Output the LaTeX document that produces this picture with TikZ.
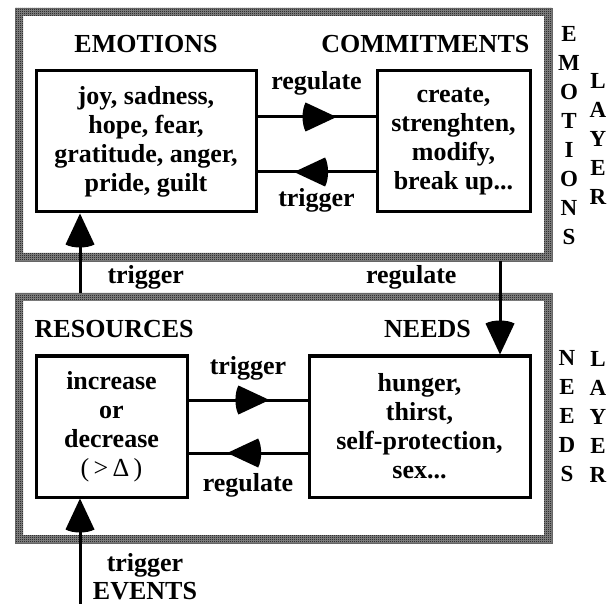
\documentclass[tikz,border=0pt]{standalone}
\usepackage{fontspec}
\setmainfont{Liberation Serif}
\usetikzlibrary{positioning,arrows.meta,decorations.markings,patterns.meta}
\newcommand\labfont{\fontsize{26}{29}\selectfont\bfseries}
\newcommand\sidefont{\fontsize{23}{29}\selectfont\bfseries}
\tikzdeclarepattern{
	name=finechecker,
	type=uncolored,
	bounding box={(0pt,0pt) and (2pt,2pt)},
	tile size={(2pt,2pt)},
	code={\fill (0pt,0pt) rectangle (1pt,1pt) (1pt,1pt) rectangle (2pt,2pt);}
}
\pgfdeclarearrow{
	name=bulgehead,
	setup code={
		\pgfarrowssettipend{0pt}
		\pgfarrowssetlineend{-16pt}
		\pgfarrowssetbackend{-34pt}
	},
	drawing code={
		\pgfpathmoveto{\pgfpointorigin}
		\pgfpathlineto{\pgfpoint{-31pt}{14.5pt}}
		\pgfpathcurveto{\pgfpoint{-35pt}{7pt}}{\pgfpoint{-35pt}{-7pt}}{\pgfpoint{-31pt}{-14.5pt}}
		\pgfpathclose
		\pgfusepathqfill
	}
}
\tikzset{
	headtip/.tip={bulgehead},
	layer/.style={draw=black!60,line width=0.5pt,inner sep=0pt,
		path picture={
			\fill[black!45,even odd rule]
			(path picture bounding box.south west) rectangle (path picture bounding box.north east)
			([shift={(8pt,8pt)}]path picture bounding box.south west) rectangle ([shift={(-8pt,-8pt)}]path picture bounding box.north east);
			\fill[pattern=finechecker,even odd rule]
			(path picture bounding box.south west) rectangle (path picture bounding box.north east)
			([shift={(8pt,8pt)}]path picture bounding box.south west) rectangle ([shift={(-8pt,-8pt)}]path picture bounding box.north east);}},
	statebox/.style={draw,line width=3pt,align=center,inner sep=0pt,font=\labfont},
	head/.style={inner sep=0pt,font=\labfont},
	flowlabel/.style={inner sep=0pt,font=\labfont},
	sidetext/.style={inner sep=0pt,align=center,font=\sidefont},
	link/.style={line width=3pt},
	midhead/.style={postaction={decorate},decoration={markings,mark=at position #1 with {\arrow{headtip}}}}
}
\begin{document}
\begin{tikzpicture}[x=1pt,y=-1pt]
	\useasboundingbox (0,0) rectangle (611,604);
	\node[layer,minimum width=537,minimum height=253] (emolayer) at (283.5,134.5) {};
	\node[layer,minimum width=537,minimum height=250] (needlayer) at (283.5,418) {};

	\node[statebox,minimum width=220,minimum height=141] (emo) at (146,141.5) {joy, sadness,\\hope, fear,\\gratitude, anger,\\pride, guilt};
	\node[statebox,minimum width=153,minimum height=141] (com) at (453.5,141.5) {create,\\strenghten,\\modify,\\break up...};
	\node[statebox,minimum width=151,minimum height=141] (res) at (111.5,426.5) {increase\\or\\decrease\\{\mdseries(\,>\,Δ\,)}};
	\node[statebox,minimum width=221,minimum height=141] (need) at (419.5,426.5) {hunger,\\thirst,\\self-protection,\\sex...};

	\node[head,above=17pt of emo] (emohead) {EMOTIONS};
	\node[head,above=17pt of com.north east,anchor=south east,xshift=-2pt] (comhead) {COMMITMENTS};
	\node[head,above=17pt of res.north west,anchor=south west] (reshead) {RESOURCES};
	\node[head,above=17pt of need,xshift=8pt] (needhead) {NEEDS};

	\node[sidetext] (emoword) at (569,135.5) {E\\M\\O\\T\\I\\O\\N\\S};
	\node[sidetext] (emolayerword) at (598,138.5) {L\\A\\Y\\E\\R};
	\node[sidetext] (needword) at (567,416.5) {N\\E\\E\\D\\S};
	\node[sidetext] (needlayerword) at (598,416.5) {L\\A\\Y\\E\\R};

	\draw[link,midhead=0.67] ([yshift=24.5pt]emo.east) -- node[flowlabel,yshift=34pt] (regtop) {regulate} ([yshift=24.5pt]com.west);
	\draw[link,midhead=0.69] ([yshift=-30.5pt]com.west) -- node[flowlabel,yshift=-28pt] (trigtop) {trigger} ([yshift=-30.5pt]emo.east);
	\draw[link,midhead=0.68] ([yshift=26.5pt]res.east) -- node[flowlabel,yshift=32pt] (trigbot) {trigger} ([yshift=26.5pt]need.west);
	\draw[link,midhead=0.675] ([yshift=-26.5pt]need.west) -- node[flowlabel,yshift=-32pt] (regbot) {regulate} ([yshift=-26.5pt]res.east);

	\coordinate (trigfoot) at ([xshift=45.5pt]emo.south west);
	\draw[link,-headtip] (trigfoot |- needlayer.north) -- node[flowlabel,pos=0.2,right=26pt] (trigup) {trigger} (trigfoot);
	\coordinate (regfoot) at ([xshift=-31.5pt]need.north east);
	\draw[link,-headtip] (regfoot |- emolayer.south) -- node[flowlabel,pos=0.17,left=42pt] (regdown) {regulate} (regfoot);

	\coordinate (eventfoot) at ([xshift=45.5pt]res.south west);
	\coordinate (events) at (80,604);
	\draw[link,-headtip] (events) -- (eventfoot);
	\node[flowlabel] (trigev) at (145,565) {trigger};
	\node[head] (eventname) at (145,591) {EVENTS};
\end{tikzpicture}
\end{document}
